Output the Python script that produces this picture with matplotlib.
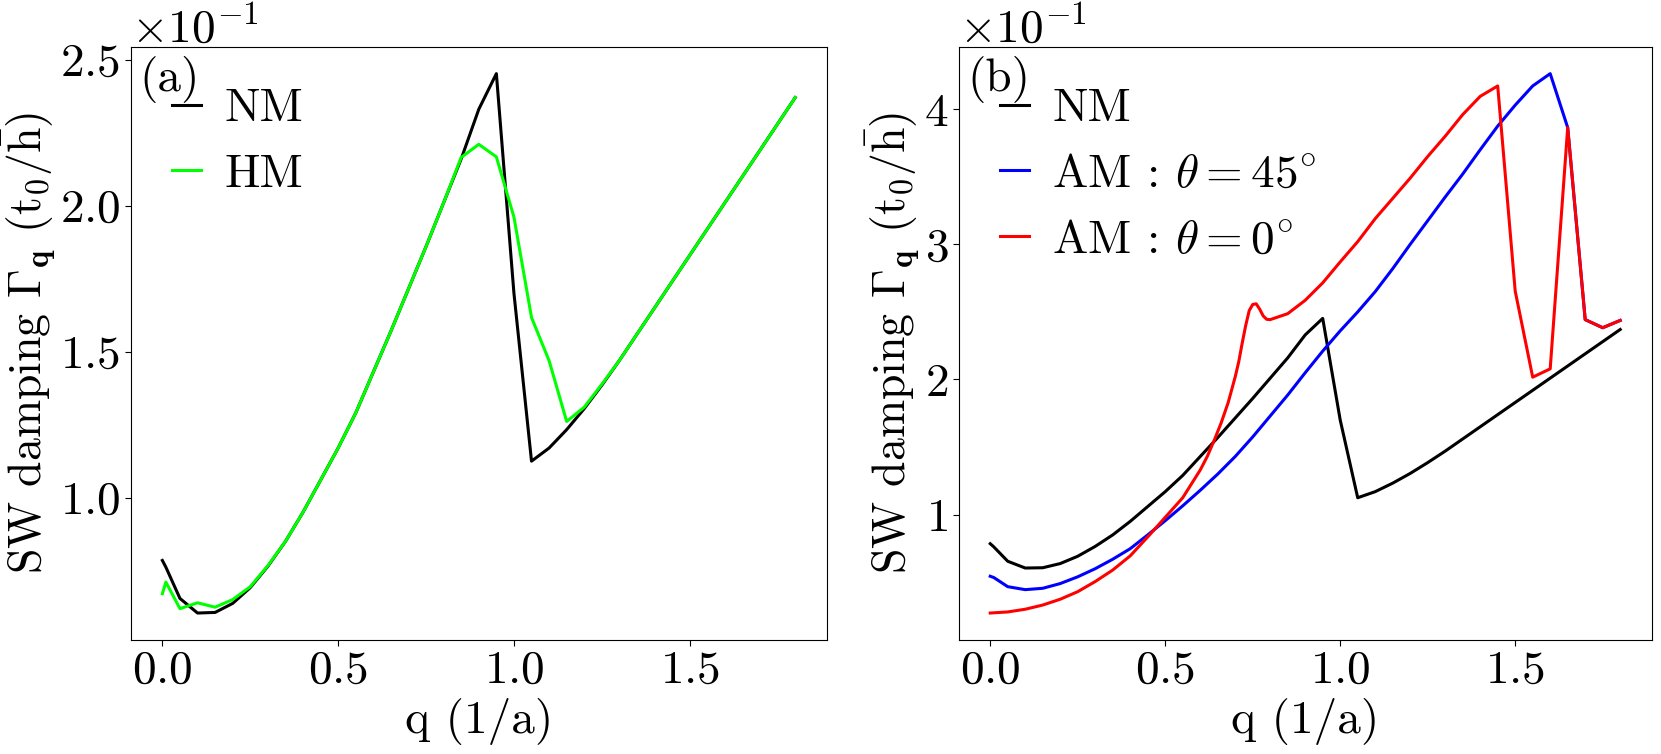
import numpy as np
import matplotlib
matplotlib.use("Agg")
import matplotlib.pyplot as plt

plt.rcParams['font.family'] = 'serif'
plt.rcParams['font.serif'] = ['cmr10']
plt.rcParams['mathtext.fontset'] = 'cm'
plt.rcParams['axes.formatter.use_mathtext'] = True
plt.rcParams['axes.unicode_minus'] = True

SCALE = 1e-1  # values below are read in units of 10^-1 (t0/hbar)

# ---- common q grid for NM / HM / AM45 ----
q = [0.0, 0.01, 0.05, 0.1, 0.15, 0.2, 0.25, 0.3, 0.35, 0.4, 0.45, 0.5, 0.55,
     0.6, 0.65, 0.7, 0.75, 0.8, 0.85, 0.9, 0.95, 1.0, 1.05, 1.1, 1.15, 1.2,
     1.25, 1.3, 1.35, 1.4, 1.45, 1.5, 1.55, 1.6, 1.65, 1.7, 1.75, 1.8]

nm = [0.785, 0.762, 0.655, 0.605, 0.607, 0.638, 0.692, 0.765, 0.85, 0.95,
      1.06, 1.17, 1.29, 1.43, 1.57, 1.715, 1.86, 2.01, 2.16, 2.33,
      2.452, 1.70, 1.125, 1.17, 1.233, 1.305, 1.385, 1.47, 1.56, 1.65,
      1.74, 1.83, 1.92, 2.01, 2.10, 2.19, 2.28, 2.37]

hm = [0.671, 0.711, 0.620, 0.640, 0.625, 0.651, 0.695, 0.767, 0.85, 0.95,
      1.06, 1.17, 1.29, 1.43, 1.57, 1.715, 1.86, 2.01, 2.165, 2.21,
      2.167, 1.961, 1.617, 1.469, 1.261, 1.31, 1.388, 1.47, 1.56, 1.65,
      1.74, 1.83, 1.92, 2.01, 2.10, 2.19, 2.28, 2.37]

am45 = [0.544, 0.535, 0.467, 0.445, 0.455, 0.49, 0.54, 0.60, 0.67, 0.748,
        0.85, 0.955, 1.065, 1.18, 1.30, 1.43, 1.575, 1.73, 1.885, 2.05, 2.21,
        2.36, 2.50, 2.65, 2.82, 3.0, 3.175, 3.35, 3.52, 3.70, 3.875, 4.03,
        4.172, 4.263, 3.864, 2.443, 2.383, 2.437]

# ---- AM theta = 0 (finer sampling around the bump) ----
q0 = [0.0, 0.05, 0.1, 0.15, 0.2, 0.25, 0.3, 0.35, 0.4, 0.45, 0.5, 0.55, 0.6,
      0.62, 0.64, 0.66, 0.68, 0.70, 0.71, 0.72, 0.73, 0.74, 0.75, 0.76, 0.77,
      0.78, 0.79, 0.8, 0.85, 0.9, 0.95, 1.0, 1.05, 1.1, 1.15, 1.2, 1.25, 1.3,
      1.35, 1.4, 1.45, 1.5, 1.55, 1.6, 1.65, 1.7, 1.75, 1.8]
am0 = [0.272, 0.28, 0.30, 0.331, 0.374, 0.43, 0.505, 0.59, 0.695, 0.835, 0.98,
       1.125, 1.33, 1.43, 1.55, 1.68, 1.83, 2.02, 2.13, 2.27, 2.40, 2.51, 2.555,
       2.56, 2.52, 2.47, 2.445, 2.443, 2.487, 2.586, 2.715, 2.87, 3.02, 3.19,
       3.34, 3.49, 3.65, 3.80, 3.96, 4.095, 4.172, 2.654, 2.017, 2.079, 3.864,
       2.443, 2.383, 2.437]

FS = 34
LW = 2.2

fig = plt.figure(figsize=(16.61, 7.54), dpi=100)
ax1 = fig.add_axes([0.0787, 0.1512, 0.4191, 0.7869])
ax2 = fig.add_axes([0.5772, 0.1512, 0.4172, 0.7869])

def sc(v):
    return np.asarray(v) * SCALE

ax1.plot(q, sc(nm), color='k', lw=LW, label='NM')
ax1.plot(q, sc(hm), color='#00ff00', lw=LW, label='HM')

ax2.plot(q, sc(nm), color='k', lw=LW, label='NM')
ax2.plot(q, sc(am45), color='#0000ff', lw=LW, label=r'AM : $\theta = 45^{\circ}$')
ax2.plot(q0, sc(am0), color='#ff0000', lw=LW, label=r'AM : $\theta = 0^{\circ}$')

for ax, tag in ((ax1, '(a)'), (ax2, '(b)')):
    ax.ticklabel_format(style='sci', axis='y', scilimits=(0, 0), useMathText=True)
    ax.yaxis.get_offset_text().set_fontsize(FS)
    ax.tick_params(labelsize=FS, width=0.8, length=4)
    ax.set_xlabel('q (1/a)', fontsize=FS)
    ax.set_ylabel(r'SW damping $\Gamma_{\mathbf{q}}$ $(\mathrm{t_0/\bar{h}})$',
                  fontsize=33, labelpad=2)
    ax.text(0.012, 0.985, tag, transform=ax.transAxes, fontsize=FS, va='top', ha='left')
    ax.legend(loc='upper left', fontsize=FS, frameon=False, handlelength=0.6,
              handletextpad=0.5, labelspacing=0.5, borderaxespad=0.48)
    ax.set_xticks([0.0, 0.5, 1.0, 1.5])

ax1.set_yticks(np.array([1.0, 1.5, 2.0, 2.5]) * SCALE)
ax2.set_yticks(np.array([1, 2, 3, 4]) * SCALE)

fig.savefig('out.png', dpi=100)
